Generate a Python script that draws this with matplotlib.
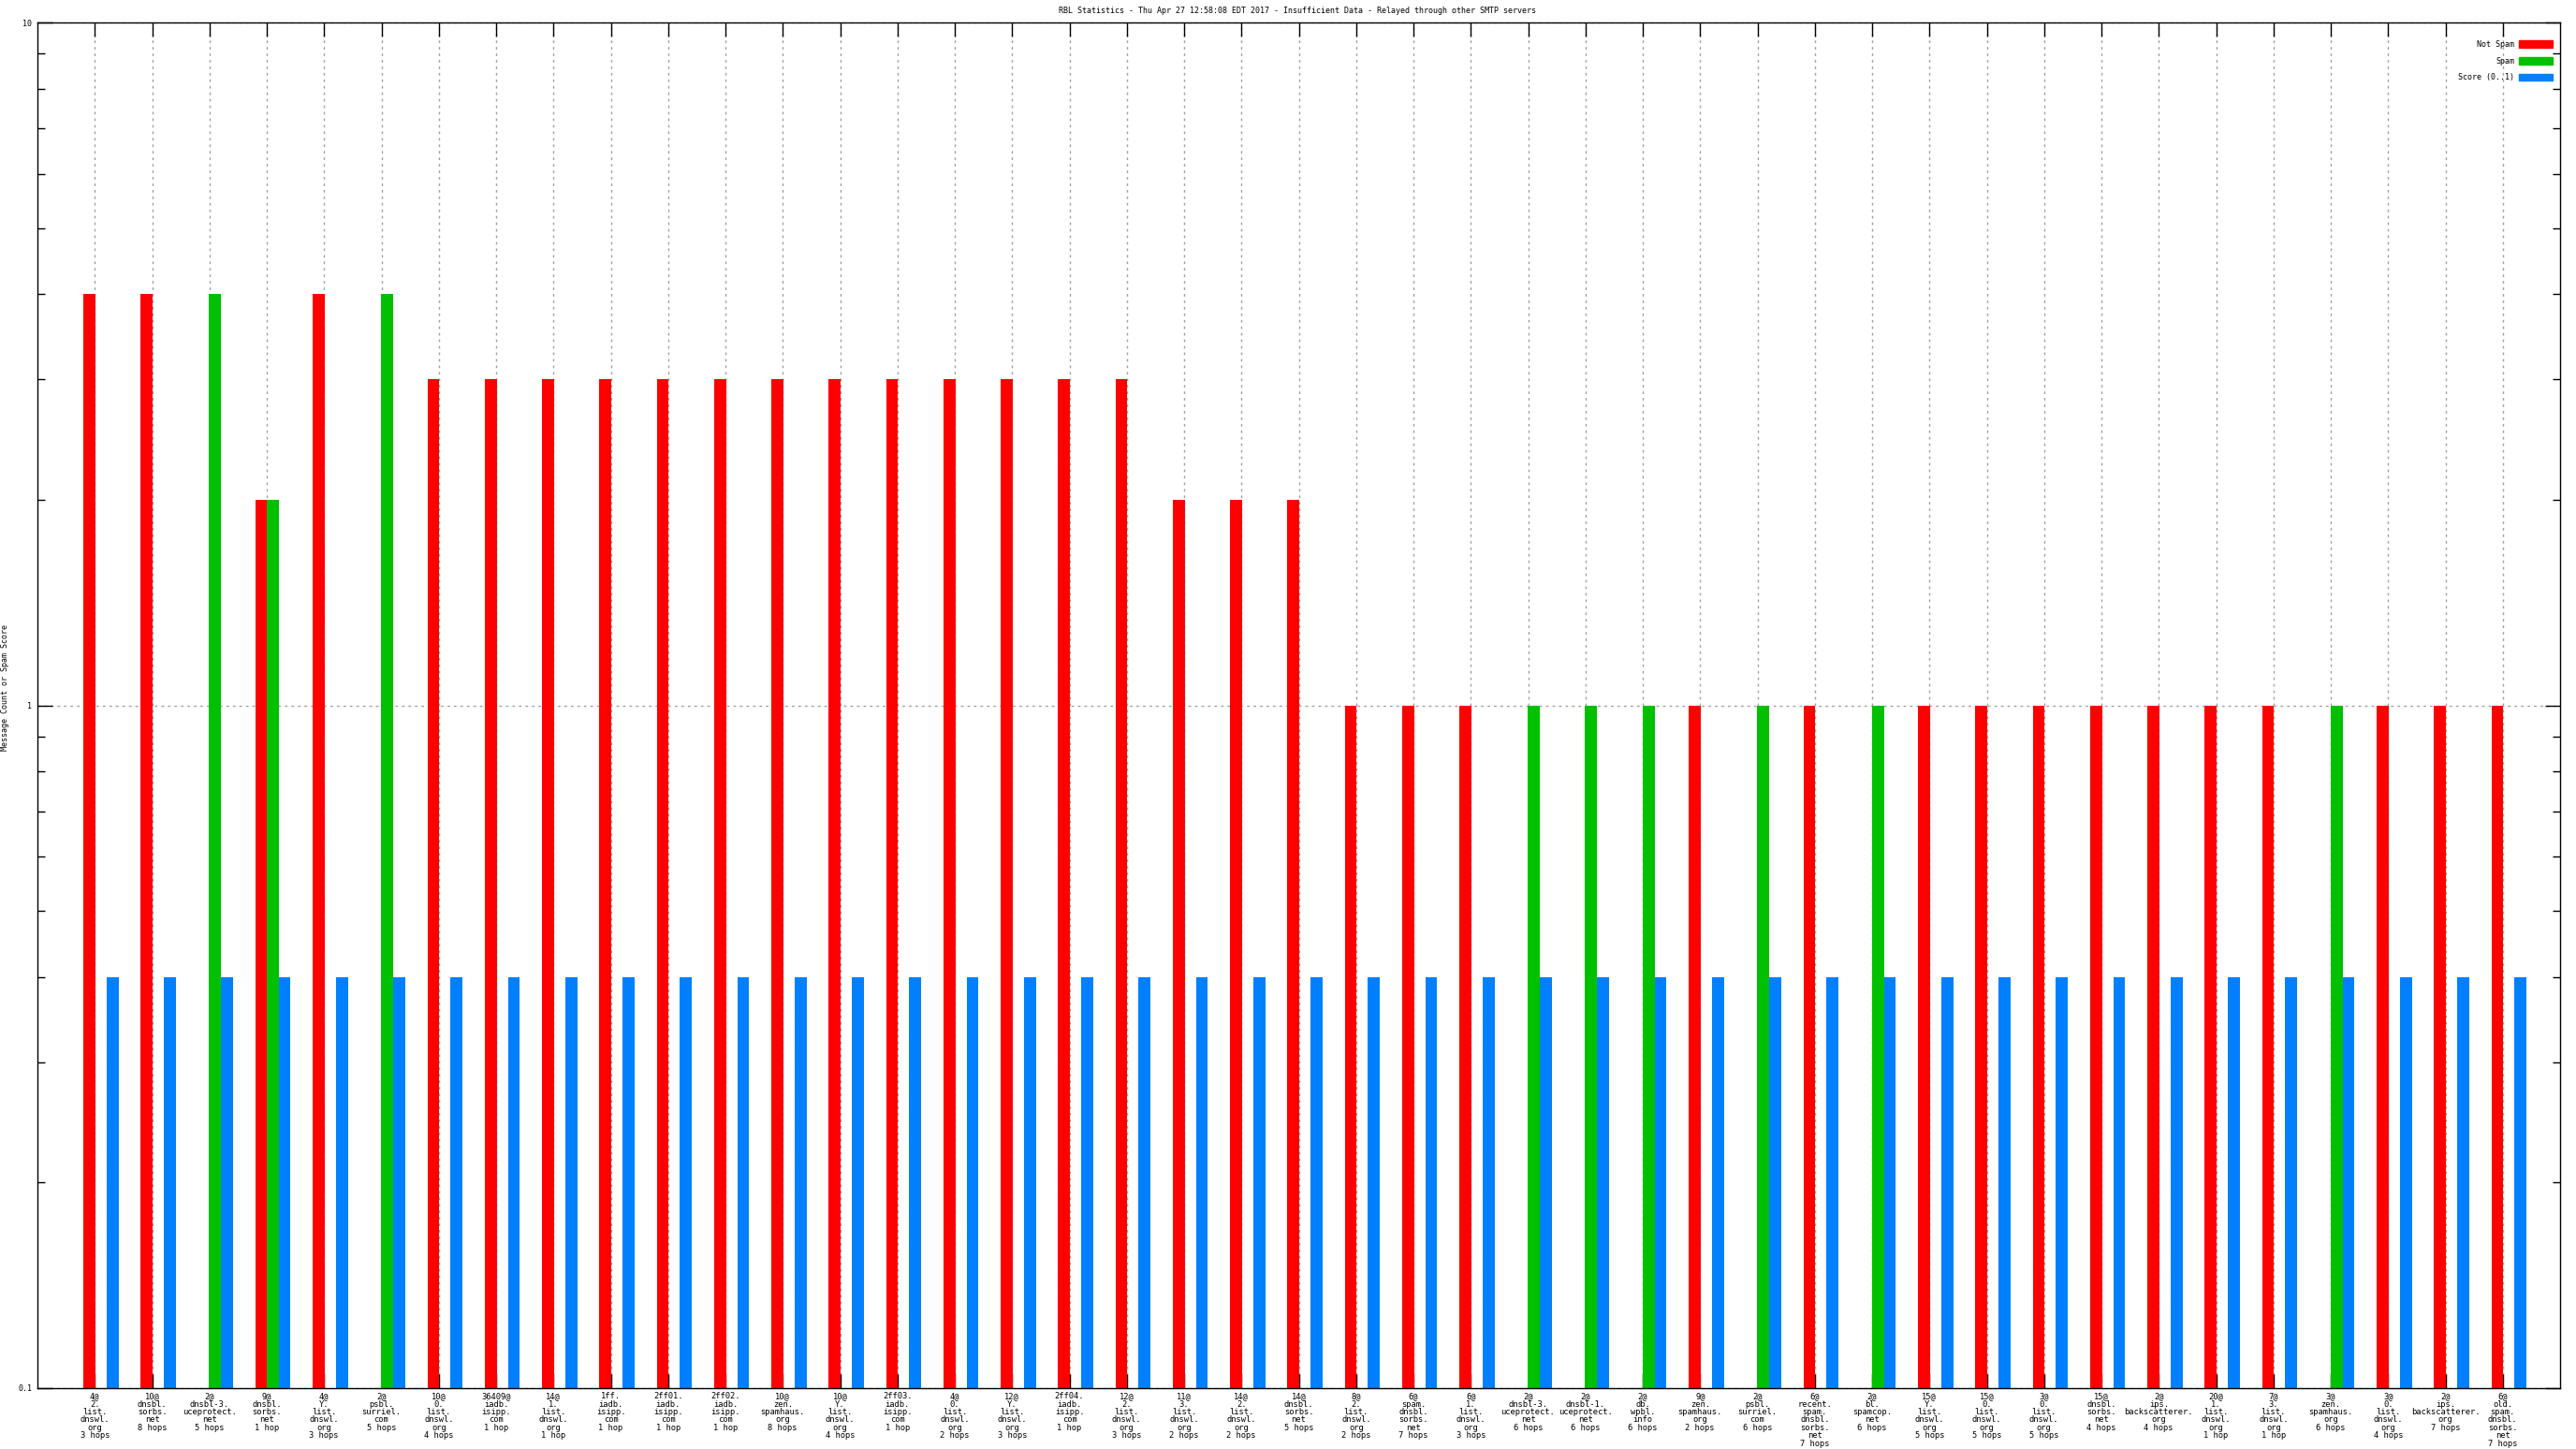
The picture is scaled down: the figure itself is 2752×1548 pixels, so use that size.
import numpy as np
import matplotlib
matplotlib.use('Agg')
import matplotlib.pyplot as plt
from matplotlib.patches import Patch

# group labels (count@ zone, hops)
labels = [
    '4@\n2.\nlist.\ndnswl.\norg\n3 hops',
    '10@\ndnsbl.\nsorbs.\nnet\n8 hops',
    '2@\ndnsbl-3.\nuceprotect.\nnet\n5 hops',
    '9@\ndnsbl.\nsorbs.\nnet\n1 hop',
    '4@\nY.\nlist.\ndnswl.\norg\n3 hops',
    '2@\npsbl.\nsurriel.\ncom\n5 hops',
    '10@\n0.\nlist.\ndnswl.\norg\n4 hops',
    '36409@\niadb.\nisipp.\ncom\n1 hop',
    '14@\n1.\nlist.\ndnswl.\norg\n1 hop',
    '1ff.\niadb.\nisipp.\ncom\n1 hop',
    '2ff01.\niadb.\nisipp.\ncom\n1 hop',
    '2ff02.\niadb.\nisipp.\ncom\n1 hop',
    '10@\nzen.\nspamhaus.\norg\n8 hops',
    '10@\nY.\nlist.\ndnswl.\norg\n4 hops',
    '2ff03.\niadb.\nisipp.\ncom\n1 hop',
    '4@\n0.\nlist.\ndnswl.\norg\n2 hops',
    '12@\nY.\nlist.\ndnswl.\norg\n3 hops',
    '2ff04.\niadb.\nisipp.\ncom\n1 hop',
    '12@\n2.\nlist.\ndnswl.\norg\n3 hops',
    '11@\n3.\nlist.\ndnswl.\norg\n2 hops',
    '14@\n2.\nlist.\ndnswl.\norg\n2 hops',
    '14@\ndnsbl.\nsorbs.\nnet\n5 hops',
    '8@\n2.\nlist.\ndnswl.\norg\n2 hops',
    '6@\nspam.\ndnsbl.\nsorbs.\nnet\n7 hops',
    '6@\n1.\nlist.\ndnswl.\norg\n3 hops',
    '2@\ndnsbl-3.\nuceprotect.\nnet\n6 hops',
    '2@\ndnsbl-1.\nuceprotect.\nnet\n6 hops',
    '2@\ndb.\nwpbl.\ninfo\n6 hops',
    '9@\nzen.\nspamhaus.\norg\n2 hops',
    '2@\npsbl.\nsurriel.\ncom\n6 hops',
    '6@\nrecent.\nspam.\ndnsbl.\nsorbs.\nnet\n7 hops',
    '2@\nbl.\nspamcop.\nnet\n6 hops',
    '15@\nY.\nlist.\ndnswl.\norg\n5 hops',
    '15@\n0.\nlist.\ndnswl.\norg\n5 hops',
    '3@\n0.\nlist.\ndnswl.\norg\n5 hops',
    '15@\ndnsbl.\nsorbs.\nnet\n4 hops',
    '2@\nips.\nbackscatterer.\norg\n4 hops',
    '20@\n1.\nlist.\ndnswl.\norg\n1 hop',
    '7@\n3.\nlist.\ndnswl.\norg\n1 hop',
    '3@\nzen.\nspamhaus.\norg\n6 hops',
    '3@\n0.\nlist.\ndnswl.\norg\n4 hops',
    '2@\nips.\nbackscatterer.\norg\n7 hops',
    '6@\nold.\nspam.\ndnsbl.\nsorbs.\nnet\n7 hops',
]

nan = np.nan
not_spam = [4, 4, nan, 2, 4, nan, 3, 3, 3, 3, 3, 3, 3, 3, 3, 3, 3, 3, 3, 2, 2, 2,
            1, 1, 1, nan, nan, nan, 1, nan, 1, nan, 1, 1, 1, 1, 1, 1, 1, nan, 1, 1, 1]
spam = [nan, nan, 4, 2, nan, 4, nan, nan, nan, nan, nan, nan, nan, nan, nan, nan, nan,
        nan, nan, nan, nan, nan, nan, nan, nan, 1, 1, 1, nan, 1, nan, 1, nan, nan, nan,
        nan, nan, nan, nan, 1, nan, nan, nan]
score = [0.4] * len(labels)

W, H = 2752, 1548
fig = plt.figure(figsize=(W / 100, H / 100), dpi=100)
left, right, top, bottom = 40, 2735, 24, 1483
ax = fig.add_axes([left / W, 1 - bottom / H, (right - left) / W, (bottom - top) / H])
ax.set_axisbelow(True)

font = 'DejaVu Sans Mono'
fs = 6

x = np.arange(len(labels))
w = 0.21
ax.bar(x - 0.2, not_spam, w, align='edge', color='#ff0000', zorder=3)
ax.bar(x - 0.005, spam, w, align='edge', color='#00c000', zorder=3)
ax.bar(x + 0.205, score, w, align='edge', color='#0080ff', zorder=3)

ax.set_yscale('log')
ax.set_ylim(0.1, 10)
ax.set_xlim(-1, len(labels))

ax.set_xticks(x)
ax.set_xticklabels(labels, fontsize=6.3, family=font, linespacing=0.92, va='top')
ax.set_yticks([0.1, 1, 10])
ax.set_yticklabels(['0.1', '1', '10'], fontsize=fs, family=font)
ax.yaxis.set_minor_locator(matplotlib.ticker.LogLocator(base=10, subs=np.arange(2, 10)))
ax.yaxis.set_minor_formatter(matplotlib.ticker.NullFormatter())

ax.tick_params(axis='x', which='major', direction='in', length=11, width=1,
               top=True, bottom=True, pad=3)
ax.tick_params(axis='y', which='major', direction='in', length=11.5, width=1,
               left=True, right=True, pad=4)
ax.tick_params(axis='y', which='minor', direction='in', length=6, width=1,
               left=True, right=True)

ax.grid(True, which='major', color='#a0a0a0', linestyle=(0, (2, 3)), linewidth=1)
ax.grid(False, which='minor')
for s in ax.spines.values():
    s.set_linewidth(1)
    s.set_zorder(4)

handles = [Patch(color='#ff0000', label='Not Spam'),
           Patch(color='#00c000', label='Spam'),
           Patch(color='#0080ff', label='Score (0..1)')]
ax.legend(handles=handles, loc='upper right', frameon=False, markerfirst=False,
          prop={'family': font, 'size': fs}, handlelength=4.3, handleheight=1.0,
          handletextpad=0.6, labelspacing=1.05, borderpad=0, borderaxespad=0,
          bbox_to_anchor=(1 - 8 / (right - left), 1 - 19 / (bottom - top)))

fig.text(1386 / W, 1 - 11 / H,
         'RBL Statistics - Thu Apr 27 12:58:08 EDT 2017 - Insufficient Data - Relayed through other SMTP servers',
         ha='center', va='center', fontsize=fs, family=font)
fig.text(6 / W, 1 - 734 / H, 'Message Count or Spam Score', rotation=90,
         ha='center', va='center', fontsize=fs, family=font)

fig.savefig('out.png', dpi=100)
